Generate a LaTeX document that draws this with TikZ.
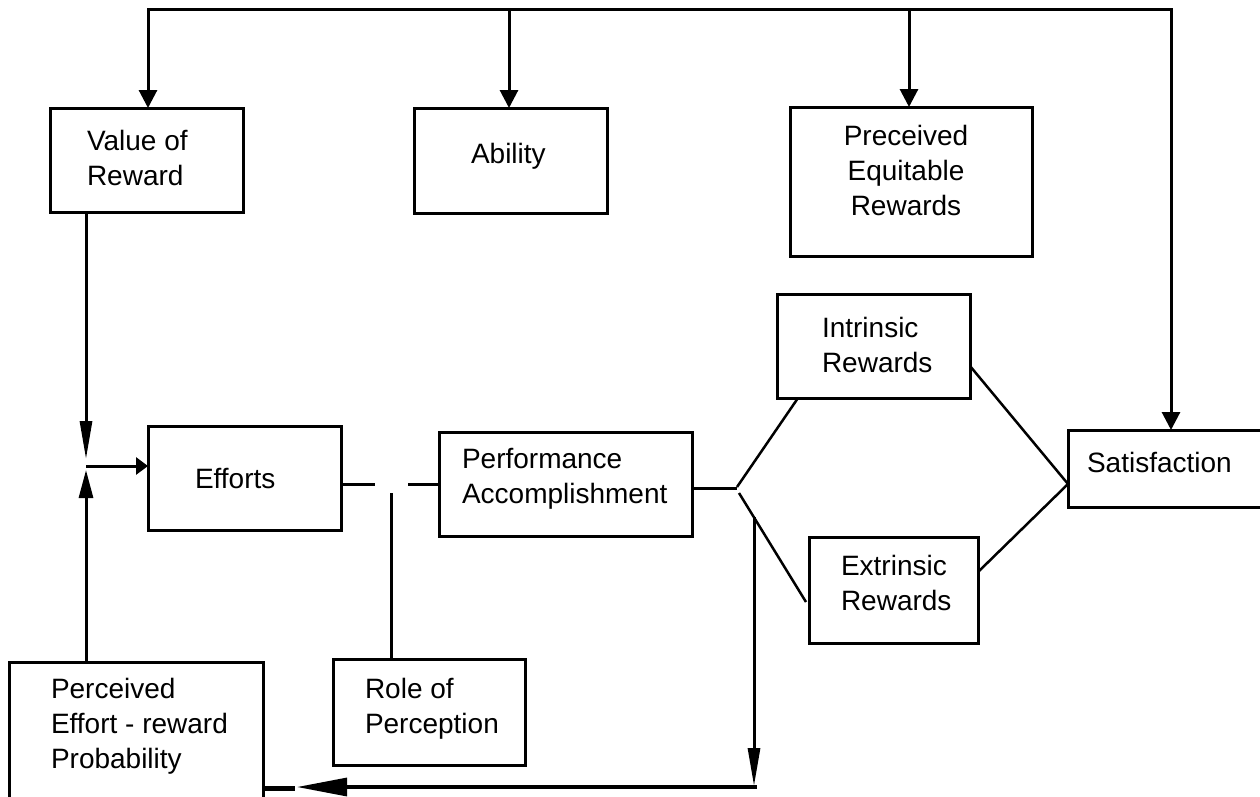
\documentclass[tikz,border=0pt]{standalone}
\usepackage{fontspec}
\setmainfont{Liberation Sans}
\usetikzlibrary{arrows.meta,calc}
\newcommand{\nsp}{\spaceskip=0pt\xspaceskip=0pt\relax}
\begin{document}
\begin{tikzpicture}[x=1pt,y=-1pt,
  box/.style={draw, line width=3pt, rectangle, inner sep=0pt, outer sep=0pt},
  txt/.style={inner sep=0pt, outer sep=0pt, text width=260pt, align=left, anchor=base west,
    font=\fontsize{28}{35}\selectfont},
  ctxt/.style={inner sep=0pt, outer sep=0pt, text width=200pt, align=center, anchor=base,
    font=\fontsize{28}{35}\selectfont},
  wire/.style={line width=3pt},
  thin wire/.style={line width=2.5pt},
  toparr/.style={wire, -{Triangle[length=18pt,width=18pt]}},
  longarr/.style={wire, -{Triangle[length=38pt,width=12pt]}},
  midarr/.style={wire, -{Triangle[length=28pt,width=14pt]}},
  smallarr/.style={wire, -{Triangle[length=12pt,width=17pt]}},
  bigarr/.style={line width=3.2pt, -{Triangle[length=50pt,width=18pt]}}
]
\useasboundingbox (0,0) rectangle (1260,796);

% boxes
\node[box, minimum width=193pt, minimum height=104pt] (vr) at (146.5,160) {};
\node[box, minimum width=193pt, minimum height=105pt] (ab) at (510.5,160.5) {};
\node[box, minimum width=242pt, minimum height=149pt] (pe) at (911,181.5) {};
\node[box, minimum width=193pt, minimum height=104pt] (in) at (873.5,346) {};
\node[box, minimum width=193pt, minimum height=104pt] (ef) at (244.5,478) {};
\node[box, minimum width=253pt, minimum height=104pt] (pa) at (565.5,484) {};
\node[box, minimum width=169pt, minimum height=106pt] (ex) at (893.5,590) {};
\node[box, minimum width=196pt, minimum height=77pt] (sa) at (1166,468.5) {};
\node[box, minimum width=254pt, minimum height=140pt] (pp) at (136,732) {};
\node[box, minimum width=192pt, minimum height=106pt] (rp) at (429,712) {};

% texts
\node[txt] (tvr) at (87,150) {\nsp Value of\\Reward};
\node[txt] (tab) at (471,163) {Ability};
\node[ctxt] (tpe) at (906,145) {Preceived\\Equitable\\ Rewards};
\node[txt] (tin) at (822,337) {Intrinsic\\Rewards};
\node[txt] (tef) at (195,488) {Efforts};
\node[txt] (tpa) at (462,468) {Performance\\Accomplishment};
\node[txt] (tex) at (841,575) {Extrinsic\\Rewards};
\node[txt] (tsa) at (1087,472) {Satisfaction};
\node[txt] (tpp) at (51,698) {\nsp Perceived\\Effort - reward\\Probability};
\node[txt] (trp) at (365,698) {\nsp Role of\\Perception};

% top bus
\coordinate (bus1) at (148,9);
\coordinate (bus2) at (509,9);
\coordinate (bus3) at (909,9);
\coordinate (bus4) at (1171,9);
\draw[wire, line cap=rect] (bus1) -- (bus4);
\draw[toparr] (bus1) -- (bus1 |- vr.north);
\draw[toparr] (bus2) -- (bus2 |- ab.north);
\draw[toparr] (bus3) -- (bus3 |- pe.north);
\draw[toparr] (bus4) -- (bus4 |- sa.north);

% left junction into efforts
\coordinate (jn) at (86,466);
\draw[longarr] (vr.south -| jn) -- ($(jn)+(0,-7)$);
\draw[midarr] (pp.north -| jn) -- ($(jn)+(0,4)$);
\draw[smallarr] (jn) -- (ef.west |- jn);

% efforts to performance with role of perception
\coordinate (g1) at (375,484);
\coordinate (g2) at (408,484);
\coordinate (rv) at (391,493);
\draw[wire] (ef.east |- g1) -- (g1);
\draw[wire] (g2) -- (pa.west |- g2);
\draw[wire] (rv) -- (rp.north -| rv);

% fork to rewards
\coordinate (fk) at (737,488);
\draw[wire] (pa.east |- fk) -- (fk);
\draw[thin wire] ($(fk)+(0,-1)$) -- (in.south -| 798,0);
\draw[thin wire] ($(fk)+(2,5)$) -- (806,602);

% feedback to perceived probability
\coordinate (fb) at (754,517);
\coordinate (fbc) at (757,787);
\draw[longarr] (fb) -- (754,786);
\draw[bigarr] (fbc) -- (297,787);
\draw[line width=5pt] (266,788) -- (pp.east |- 0,788) -- (295,788);

% rewards to satisfaction
\coordinate (sj) at (1068,484);
\draw[thin wire] (in.east |- 0,366) -- (sj);
\draw[thin wire] (ex.east |- 0,572) -- (sj);
\end{tikzpicture}
\end{document}
